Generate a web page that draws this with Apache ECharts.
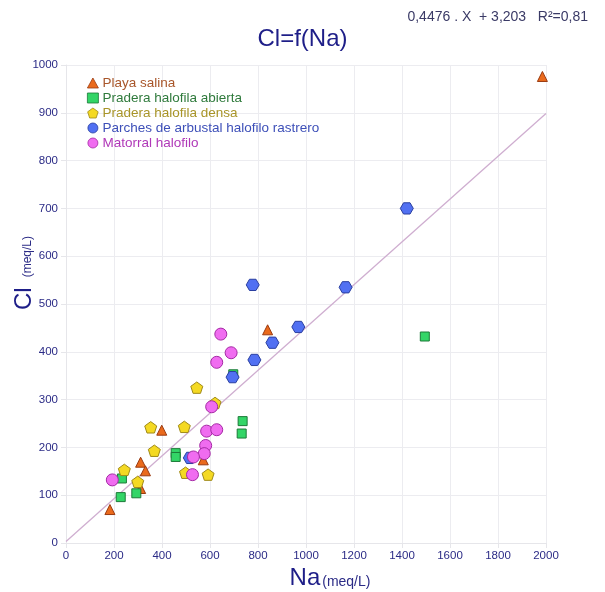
<!DOCTYPE html>
<html>
<head>
<meta charset="utf-8">
<script src="https://cdn.jsdelivr.net/npm/echarts@6/dist/echarts.min.js"></script>
<style>
  html, body { margin: 0; padding: 0; background: #ffffff; }
  #chart { width: 605px; height: 592px; }
</style>
</head>
<body>
<div id="chart"></div>
<script>
// Na (meq/L) vs Cl (meq/L) by vegetation unit
const playaSalina = [[1985, 976], [840, 446], [399, 236], [572, 174], [311, 169], [331, 151], [311, 114], [183, 70]];
const praderaAbierta = [[697, 353], [736, 255], [732, 229], [457, 188], [457, 180], [233, 135], [228, 96], [293, 104], [1495, 432]];
const praderaDensa = [[545, 325], [621, 293], [353, 242], [493, 243], [368, 193], [243, 153], [299, 128], [498, 147], [592, 143]];
const parches = [[1420, 700], [1165, 535], [968, 452], [860, 419], [785, 383], [778, 540], [694, 347], [516, 178]];
const matorral = [[645, 437], [688, 398], [628, 378], [607, 285], [586, 234], [628, 237], [582, 204], [576, 187], [531, 180], [527, 143], [193, 132]];

const seriesNames = ['Playa salina', 'Pradera halofila abierta', 'Pradera halofila densa',
  'Parches de arbustal halofilo rastrero', 'Matorral halofilo'];
const xTicks = { min: 0, max: 2000, step: 200 };
const yTicks = { min: 0, max: 1000, step: 100 };

// linear fit Cl = a·Na + b
const slope = 0.4476;
const intercept = 3.203;
const fitText = '0,4476 . X  + 3,203   R²=0,81';
const fitLine = [[xTicks.min, slope * xTicks.min + intercept], [xTicks.max, slope * xTicks.max + intercept]];

const PENTAGON = 'path://M0,-1 L0.951,-0.309 L0.588,0.809 L-0.588,0.809 L-0.951,-0.309 Z';
const HEXAGON = 'path://M-1,0 L-0.5,-0.866 L0.5,-0.866 L1,0 L0.5,0.866 L-0.5,0.866 Z';

const styles = [
  { data: playaSalina, symbol: 'triangle', legendIcon: 'triangle', size: 10, fill: '#ea6a1c', border: '#9a3a10', text: '#a8562a' },
  { data: praderaAbierta, symbol: 'rect', legendIcon: 'rect', size: 9, fill: '#33d567', border: '#1c7a38', text: '#2f7a3c' },
  { data: praderaDensa, symbol: PENTAGON, legendIcon: PENTAGON, size: 12, fill: '#f4d923', border: '#a08a18', text: '#a89428' },
  { data: parches, symbol: HEXAGON, legendIcon: 'circle', size: 13, fill: '#5170f2', border: '#2a3fa0', text: '#3d4fb8' },
  { data: matorral, symbol: 'circle', legendIcon: 'circle', size: 12, fill: '#f06cf0', border: '#a52aa5', text: '#b038b8' }
];

const FONT = '"Liberation Sans", Arial, sans-serif';
const NAVY = '#2b2b86';

const chart = echarts.init(document.getElementById('chart'), null, { renderer: 'canvas' });

const scatterSeries = styles.map((s, i) => ({
  name: seriesNames[i],
  type: 'scatter',
  data: s.data,
  symbol: s.symbol,
  symbolSize: s.size,
  symbolKeepAspect: true,
  z: 3,
  itemStyle: { color: s.fill, borderColor: s.border, borderWidth: 1, opacity: 1 }
}));

const plain = v => String(v);

chart.setOption({
  animation: false,
  backgroundColor: '#ffffff',
  title: {
    text: 'Cl=f(Na)',
    left: 'center',
    top: 22,
    textStyle: { fontFamily: FONT, fontSize: 24, fontWeight: 'normal', color: '#1e1e88' }
  },
  grid: { left: 66, right: 59, top: 65, bottom: 49 },
  legend: {
    orient: 'vertical',
    left: 82,
    top: 71,
    itemGap: 1,
    itemWidth: 11,
    itemHeight: 10,
    textStyle: { fontFamily: FONT, fontSize: 13.5, padding: [0, 0, 0, -1] },
    data: seriesNames.map((n, i) => ({
      name: n,
      icon: styles[i].legendIcon,
      itemStyle: { borderWidth: 0.8 },
      textStyle: { color: styles[i].text }
    }))
  },
  xAxis: {
    type: 'value',
    min: xTicks.min,
    max: xTicks.max,
    interval: xTicks.step,
    axisLine: { show: true, lineStyle: { color: '#e6e6ea' } },
    axisTick: { show: true, length: 5, lineStyle: { color: '#e6e6ea' } },
    axisLabel: { color: NAVY, fontFamily: FONT, fontSize: 11.5, margin: 7, formatter: plain },
    splitLine: { show: true, lineStyle: { color: '#ececf0', width: 1 } }
  },
  yAxis: {
    type: 'value',
    min: yTicks.min,
    max: yTicks.max,
    interval: yTicks.step,
    axisLine: { show: true, lineStyle: { color: '#e6e6ea' } },
    axisTick: { show: true, length: 5, lineStyle: { color: '#e6e6ea' } },
    axisLabel: { color: NAVY, fontFamily: FONT, fontSize: 11.5, margin: 8, formatter: plain },
    splitLine: { show: true, lineStyle: { color: '#ececf0', width: 1 } }
  },
  graphic: [
    {
      type: 'text',
      right: 17,
      top: 10,
      style: { text: fitText, font: '14px ' + FONT, fill: '#3a3a66' }
    },
    {
      type: 'text',
      x: 330,
      y: 578,
      style: {
        text: '{a|Na}{b|(meq/L)}',
        align: 'center',
        verticalAlign: 'middle',
        rich: {
          a: { fontFamily: FONT, fontSize: 24, fill: '#1e1e88', verticalAlign: 'bottom' },
          b: { fontFamily: FONT, fontSize: 14, fill: '#2b2b86', verticalAlign: 'bottom', padding: [0, 0, 1, 2] }
        }
      }
    },
    {
      type: 'text',
      x: 24,
      y: 273,
      rotation: Math.PI / 2,
      style: {
        text: '{a|Cl}{b|(meq/L)}',
        align: 'center',
        verticalAlign: 'middle',
        rich: {
          a: { fontFamily: FONT, fontSize: 24, fill: '#1e1e88', verticalAlign: 'bottom' },
          b: { fontFamily: FONT, fontSize: 12, fill: '#2b2b86', verticalAlign: 'bottom', padding: [0, 0, 2, 10] }
        }
      }
    }
  ],
  series: [
    {
      name: 'ajuste',
      type: 'line',
      data: fitLine,
      showSymbol: false,
      symbol: 'none',
      silent: true,
      z: 2,
      lineStyle: { color: '#cfaed0', width: 1.3 }
    },
    ...scatterSeries
  ]
});
</script>
</body>
</html>
